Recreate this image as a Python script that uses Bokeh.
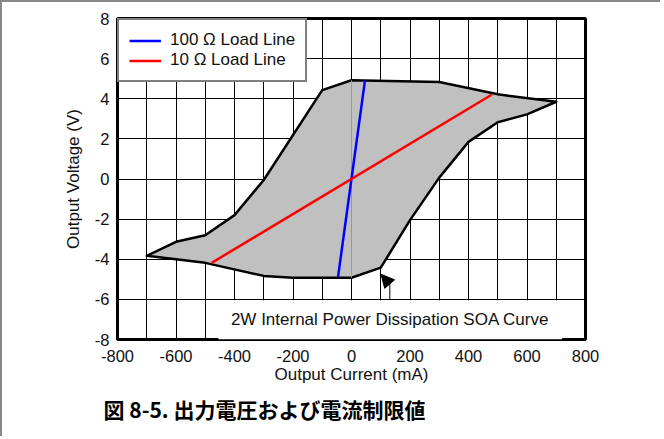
from bokeh.plotting import figure
from bokeh.models import (Range1d, FixedTicker, Legend, LegendItem, BoxAnnotation,
                          Label, Arrow, NormalHead, Title, CustomJSTickFormatter)
from bokeh.embed import file_html
from bokeh.resources import INLINE

# SOA boundary (Output Current mA, Output Voltage V), clockwise from top
soa_current = [0, 300, 500, 700, 600, 500, 400, 300, 200, 100, 0,
               -200, -300, -500, -700, -600, -500, -400, -300, -100]
soa_voltage = [4.92, 4.83, 4.22, 3.85, 3.22, 2.83, 1.85, 0.07, -2.05, -4.42, -4.92,
               -4.92, -4.83, -4.18, -3.83, -3.13, -2.8, -1.8, -0.05, 4.43]

load100_current = [-46, 46]
load100_voltage = [-4.88, 4.9]
load10_current = [-478, 479]
load10_voltage = [-4.18, 4.2]

zero_line_current = [0, 0]
zero_line_voltage = [-4.92, 4.92]

x_ticks = [-800, -600, -400, -200, 0, 200, 400, 600, 800]
x_grid = list(range(-800, 801, 100))
y_ticks = [-8, -6, -4, -2, 0, 2, 4, 6, 8]

FONT = "Liberation Sans"

p = figure(width=660, height=436, output_backend="svg", toolbar_location=None,
           x_range=Range1d(-800, 800), y_range=Range1d(-8, 8),
           min_border_left=115, min_border_right=77, min_border_top=16,
           min_border_bottom=99)
p.styles = {"border-left": "2px solid #888888", "border-top": "2px solid #888888"}
p.outline_line_color = "black"
p.outline_line_width = 3

p.xaxis.ticker = FixedTicker(ticks=x_ticks)
p.yaxis.ticker = FixedTicker(ticks=y_ticks)
p.xgrid.ticker = FixedTicker(ticks=x_grid)
p.ygrid.ticker = FixedTicker(ticks=y_ticks)
for g in (p.xgrid, p.ygrid):
    g.grid_line_color = "black"
    g.grid_line_width = 1
    g.grid_line_alpha = 1

fmt = "return tick.toFixed(0);"
for ax in (p.xaxis, p.yaxis):
    ax.formatter = CustomJSTickFormatter(code=fmt)
    ax.axis_line_color = None
    ax.major_tick_line_color = None
    ax.minor_tick_line_color = None
    ax.major_tick_out = 0
    ax.major_tick_in = 0
    ax.major_label_text_font = FONT
    ax.major_label_text_font_size = "16.5px"
    ax.major_label_text_color = "#111111"
    ax.axis_label_text_font = FONT
    ax.axis_label_text_font_size = "17px"
    ax.axis_label_text_font_style = "normal"
    ax.axis_label_text_color = "#111111"

p.xaxis.axis_label = "Output Current (mA)"
p.yaxis.axis_label = "Output Voltage (V)"
p.xaxis.major_label_standoff = 10
p.yaxis.major_label_standoff = 8
p.xaxis.axis_label_standoff = 0
p.yaxis.axis_label_standoff = 9

p.patch(soa_current, soa_voltage, fill_color="#c0c0c0", line_color="black",
        line_width=2.5, line_join="round")
p.line(zero_line_current, zero_line_voltage, line_color="#999999", line_width=1)

r100 = p.line(load100_current, load100_voltage, line_color="#0000ff", line_width=2.5)
r10 = p.line(load10_current, load10_voltage, line_color="#ff0000", line_width=2.5)

legend = Legend(items=[LegendItem(label="100 \u03a9 Load Line", renderers=[r100]),
                       LegendItem(label="10 \u03a9 Load Line", renderers=[r10])],
                location="top_left", margin=0, padding=10, spacing=0,
                glyph_width=32, glyph_height=19, label_height=19, label_standoff=9,
                label_text_font=FONT, label_text_font_size="17px",
                label_text_color="#111111",
                border_line_color="black", border_line_width=2.5,
                background_fill_color="white", background_fill_alpha=1)
p.add_layout(legend)

box = BoxAnnotation(left=-455, right=720, bottom=-8, top=-6.04,
                    fill_color="white", fill_alpha=1, line_color=None)
p.add_layout(box)
p.add_layout(Label(x=132, y=-7.0, text="2W Internal Power Dissipation SOA Curve",
                   text_align="center", text_baseline="middle",
                   text_font=FONT, text_font_size="17px", text_color="#111111"))

p.segment(x0=[131], y0=[-6.0], x1=[131], y1=[-5.2], line_color="black", line_width=1)
p.add_layout(Arrow(end=NormalHead(size=13, fill_color="black", line_color="black"),
                   x_start=131, y_start=-5.25, x_end=101, y_end=-4.75,
                   line_color="black", line_width=1))

p.add_layout(Title(text="図 8-5. 出力電圧および電流制限値", align="left", offset=-14,
                   standoff=11, text_font="Noto Sans CJK JP", text_font_style="bold",
                   text_font_size="21px", text_color="black"), "below")

open("out.html", "w").write(file_html(p, INLINE))
